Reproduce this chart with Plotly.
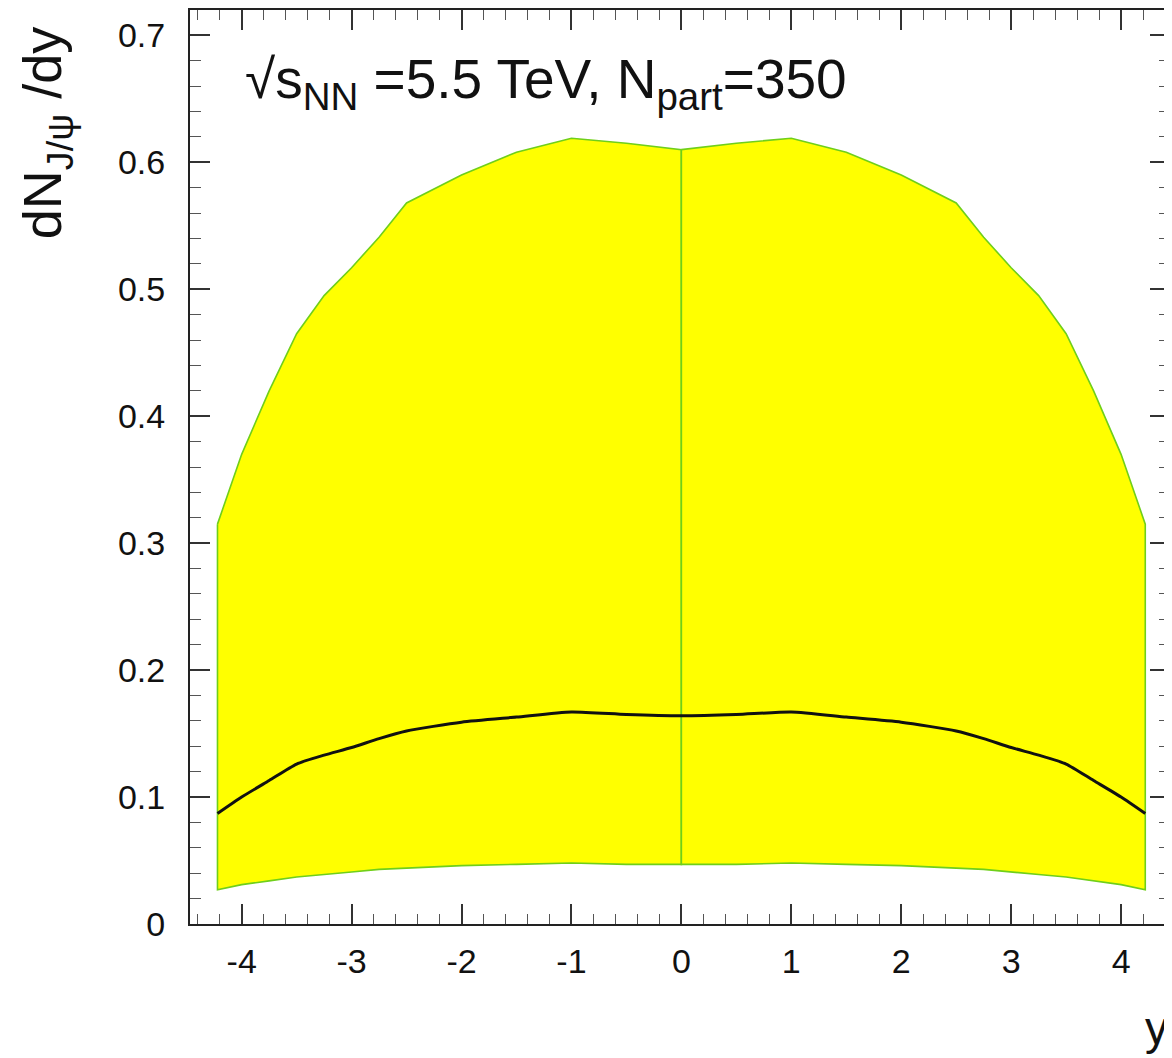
import plotly.graph_objects as go

# rapidity grid (one half, mirrored for other half)
y_half = [4.22, 4.0, 3.75, 3.5, 3.25, 3.0, 2.75, 2.5, 2.0, 1.5, 1.0, 0.5, 0.0]
upper_half = [0.315, 0.370, 0.420, 0.465, 0.495, 0.517, 0.541, 0.568, 0.590, 0.608, 0.619, 0.615, 0.610]
lower_half = [0.027, 0.031, 0.034, 0.037, 0.039, 0.041, 0.043, 0.044, 0.046, 0.047, 0.048, 0.047, 0.047]
central_half = [0.087, 0.100, 0.113, 0.126, 0.133, 0.139, 0.146, 0.152, 0.159, 0.163, 0.167, 0.165, 0.164]

x_ticks = [-4, -3, -2, -1, 0, 1, 2, 3, 4]
y_ticks = [0, 0.1, 0.2, 0.3, 0.4, 0.5, 0.6, 0.7]
y_tick_labels = ["0", "0.1", "0.2", "0.3", "0.4", "0.5", "0.6", "0.7"]

xl = [-v for v in y_half]
xr = [v for v in reversed(y_half)]
up_r = list(reversed(upper_half))
lo_r = list(reversed(lower_half))
ce_r = list(reversed(central_half))

# page body has an 8px margin; compensate so screen positions match
OFF = 8
W, H = 1172 - OFF, 1058 - OFF
L, T = 190 - OFF, 9 - OFF
BOTTOM_SCREEN = 924
B = H - (BOTTOM_SCREEN - OFF)
R = 0

fig = go.Figure()
band_line = dict(color="#6fcf1a", width=1.6)
fig.add_trace(go.Scatter(
    x=xl + xl[::-1] + [xl[0]],
    y=upper_half + lower_half[::-1] + [upper_half[0]],
    fill="toself", fillcolor="#ffff00", mode="lines", line=band_line,
    hoverinfo="skip", showlegend=False))
fig.add_trace(go.Scatter(
    x=xr + xr[::-1] + [xr[0]],
    y=up_r + lo_r[::-1] + [up_r[0]],
    fill="toself", fillcolor="#ffff00", mode="lines", line=band_line,
    hoverinfo="skip", showlegend=False))
fig.add_trace(go.Scatter(
    x=xl + xr[1:],
    y=central_half + ce_r[1:],
    mode="lines", line=dict(color="#111111", width=3, shape="spline", smoothing=0.6),
    showlegend=False))

font_family = "Liberation Sans, Arial, Helvetica, sans-serif"
axis_common = dict(
    showline=True, linecolor="#222222", linewidth=2,
    mirror="allticks", ticks="inside", ticklen=20, tickwidth=1.5,
    tickcolor="#333333", showgrid=False, zeroline=False,
    tickfont=dict(family=font_family, size=34, color="#111111"),
)

fig.update_xaxes(
    range=[-4.47, 4.445], tickvals=x_ticks, ticktext=[str(v) for v in x_ticks],
    minor=dict(ticks="inside", ticklen=10, dtick=0.2, tick0=0, tickcolor="#555555", tickwidth=1),
    ticklabelstandoff=6,
    **axis_common)
fig.update_yaxes(
    range=[0, 0.72], tickvals=y_ticks, ticktext=y_tick_labels,
    minor=dict(ticks="inside", ticklen=11, dtick=0.02, tick0=0, tickcolor="#555555", tickwidth=1),
    ticklabelstandoff=16,
    **axis_common)

pw = W - L - R
ph = H - T - B
def px_x(px):
    return (px - OFF - L) / pw
def px_y(py):
    return (H - B - (py - OFF)) / ph

fig.add_annotation(
    text="√s<sub>NN</sub> =5.5 TeV, N<sub>part</sub>=350",
    xref="paper", yref="paper", x=px_x(243), y=px_y(82),
    xanchor="left", yanchor="middle", showarrow=False,
    font=dict(family=font_family, size=55, color="#111111"))
fig.add_annotation(
    text="dN<sub>J/ψ</sub> /dy",
    xref="paper", yref="paper", x=px_x(46), y=px_y(132),
    xanchor="center", yanchor="middle", textangle=-90, showarrow=False,
    font=dict(family=font_family, size=54, color="#111111"))
fig.add_annotation(
    text="y",
    xref="paper", yref="paper", x=px_x(1158), y=px_y(1028),
    xanchor="center", yanchor="middle", showarrow=False,
    font=dict(family=font_family, size=46, color="#111111"))

fig.update_layout(
    width=W, height=H,
    margin=dict(l=L, r=R, t=T, b=B, pad=0),
    paper_bgcolor="white", plot_bgcolor="white",
    showlegend=False,
)

fig.write_html("out.html")
